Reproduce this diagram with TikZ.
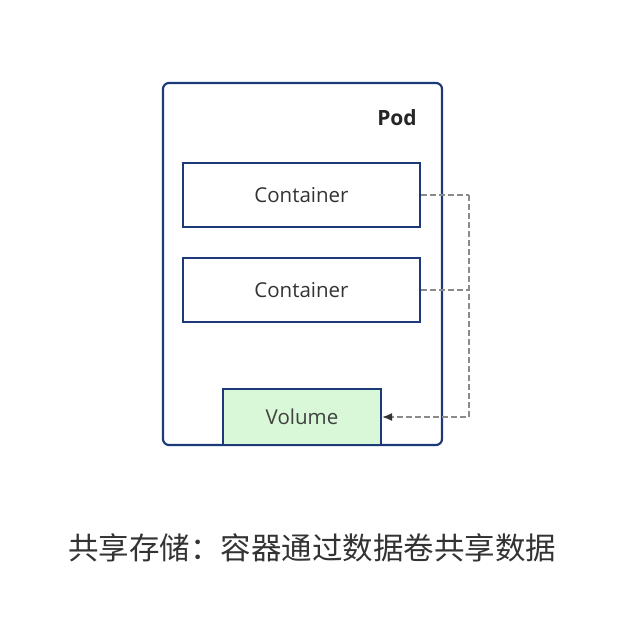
\documentclass[tikz,border=0pt]{standalone}
\usepackage{fontspec}
\setsansfont{Open Sans}
\newfontfamily\cjk{Noto Sans CJK SC}
\usetikzlibrary{arrows.meta}
\definecolor{podblue}{HTML}{1C3A78}
\definecolor{volgreen}{HTML}{D8F8D8}
\definecolor{linkgray}{HTML}{8A8A8A}
\definecolor{captext}{HTML}{333333}
\tikzset{
  box/.style={draw=podblue, line width=2.2pt, inner sep=0pt, font=\sffamily\fontsize{20.5}{24}\selectfont, text=black!80},
  link/.style={draw=linkgray, line width=1.4pt, dash pattern=on 6pt off 3pt}
}

\begin{document}
\begin{tikzpicture}[x=1pt, y=-1pt]
\useasboundingbox (0,0) rectangle (622,636);

\node[box, rounded corners=6pt, minimum width=279pt, minimum height=362pt] (pod) at (302.5,264) {};
\node[font=\sffamily\bfseries\fontsize{21}{24}\selectfont, text=black!85] (podlabel) at (397,118) {Pod};

\node[box, minimum width=237pt, minimum height=64pt] (c1) at (301.5,195) {Container};
\node[box, minimum width=237pt, minimum height=64pt] (c2) at (301.5,290) {Container};
\node[box, fill=volgreen, minimum width=158pt, minimum height=56pt, text=black!75] (vol) at (302,417) {Volume};

\coordinate (turn) at (469,195);
\coordinate (join) at (469,290);

\draw[link] (c1.east) -- (turn);
\draw[link] (c2.east) -- (join);
\draw[link, -{Latex[length=10pt, width=8pt, color=black!80]}] (turn) |- (vol.east);

\node[font=\cjk\fontsize{30.5}{36}\selectfont, text=captext] (caption) at (312,548) {共享存储：容器通过数据卷共享数据};

\end{tikzpicture}
\end{document}
